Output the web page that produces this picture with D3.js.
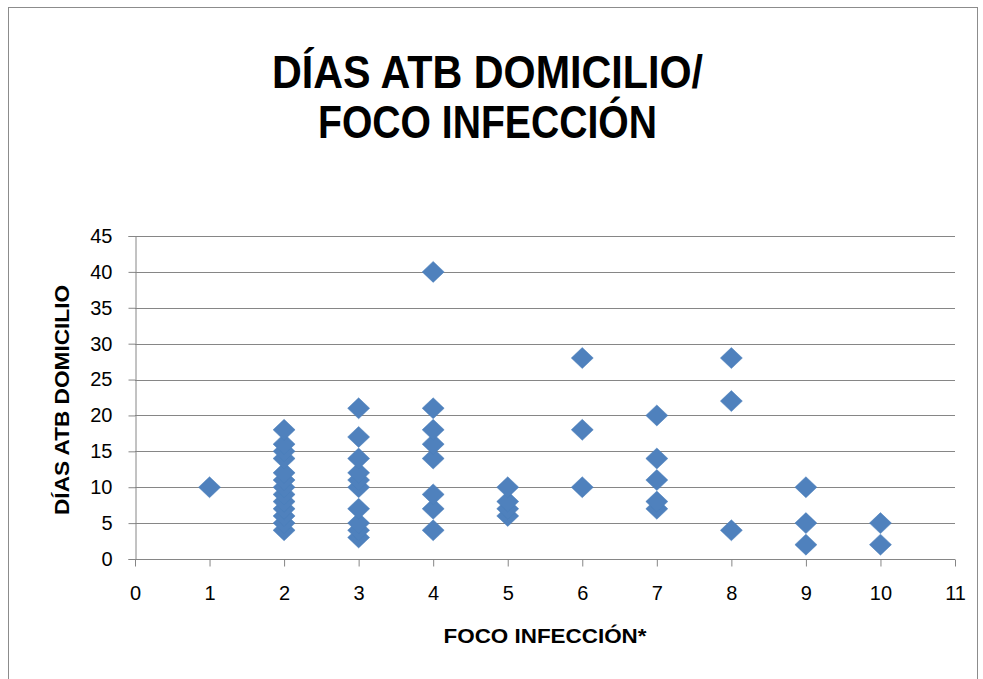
<!DOCTYPE html>
<html>
<head>
<meta charset="utf-8">
<script src="https://cdnjs.cloudflare.com/ajax/libs/d3/7.8.5/d3.min.js"></script>
<style>
  html, body { margin: 0; padding: 0; background: #fff; }
  svg { display: block; }
</style>
</head>
<body>
<svg id="chart" width="983" height="679"></svg>
<script>
// ---- Data ----
const titleLines = ["DÍAS ATB DOMICILIO/", "FOCO INFECCIÓN"];
const xAxisTitle = "FOCO INFECCIÓN*";
const yAxisTitle = "DÍAS ATB DOMICILIO";
const xTicks = [0, 1, 2, 3, 4, 5, 6, 7, 8, 9, 10, 11];
const yTicks = [0, 5, 10, 15, 20, 25, 30, 35, 40, 45];
const focoInfeccion = [
  1,
  2, 2, 2, 2, 2, 2, 2, 2, 2, 2, 2, 2, 2,
  3, 3, 3, 3, 3, 3, 3, 3, 3, 3,
  4, 4, 4, 4, 4, 4, 4, 4,
  5, 5, 5, 5,
  6, 6, 6,
  7, 7, 7, 7, 7,
  8, 8, 8,
  9, 9, 9,
  10, 10
];
const diasAtb = [
  10,
  4, 5, 6, 7, 8, 9, 10, 11, 12, 14, 15, 16, 18,
  3, 4, 5, 7, 10, 11, 12, 14, 17, 21,
  4, 7, 9, 14, 16, 18, 21, 40,
  6, 7, 8, 10,
  10, 18, 28,
  7, 8, 11, 14, 20,
  4, 22, 28,
  2, 5, 10,
  2, 5
];

// ---- Layout ----
const svg = d3.select("#chart");
const plot = { left: 135, right: 955, top: 236, bottom: 559 };
const gridColor = "#868686";
const markerColor = "#4F81BD";
const font = "'Liberation Sans', Arial, sans-serif";

// chart frame
svg.append("rect")
  .attr("x", 8.5).attr("y", 7.5)
  .attr("width", 969).attr("height", 700)
  .attr("fill", "#fff")
  .attr("stroke", "#8c8c8c")
  .attr("stroke-width", 1);

const x = d3.scaleLinear().domain([0, 11]).range([plot.left, plot.right]);
const y = d3.scaleLinear().domain([0, 45]).range([plot.bottom, plot.top]);

// gridlines
svg.append("g")
  .selectAll("line")
  .data(yTicks.filter(d => d > 0))
  .join("line")
  .attr("x1", plot.left).attr("x2", plot.right)
  .attr("y1", d => Math.round(y(d)) + 0.5)
  .attr("y2", d => Math.round(y(d)) + 0.5)
  .attr("stroke", gridColor)
  .attr("stroke-width", 1);

// y axis
const yAxis = svg.append("g")
  .attr("transform", `translate(${plot.left + 0.5},0)`)
  .call(d3.axisLeft(y).tickValues(yTicks).tickSize(7).tickPadding(16).tickFormat(d3.format("d")));
yAxis.selectAll("path, line").attr("stroke", gridColor);
yAxis.selectAll("text").attr("font-family", font).attr("font-size", 20).attr("fill", "#000");

// x axis
const xAxis = svg.append("g")
  .attr("transform", `translate(0,${plot.bottom + 0.5})`)
  .call(d3.axisBottom(x).tickValues(xTicks).tickSize(7).tickPadding(19).tickFormat(d3.format("d")));
xAxis.selectAll("path, line").attr("stroke", gridColor);
xAxis.select(".domain").attr("d", `M${plot.left},0H${plot.right}`);
xAxis.selectAll("text").attr("font-family", font).attr("font-size", 20).attr("fill", "#000");

// markers
const points = focoInfeccion.map((f, i) => ({ f, d: diasAtb[i] }));
const diamond = "M0,-10.5L11,0L0,10.5L-11,0Z";
svg.append("g")
  .selectAll("path")
  .data(points)
  .join("path")
  .attr("d", diamond)
  .attr("transform", p => `translate(${x(p.f)},${y(p.d)})`)
  .attr("fill", markerColor)
  .attr("stroke", "#4A7EBB")
  .attr("stroke-width", 0.5);

// title
svg.append("g")
  .selectAll("text")
  .data(titleLines)
  .join("text")
  .attr("x", 487.5)
  .attr("y", (d, i) => 88 + i * 50)
  .attr("text-anchor", "middle")
  .attr("font-family", font)
  .attr("font-weight", "bold")
  .attr("font-size", 47)
  .attr("textLength", (d, i) => i === 0 ? 431 : 339)
  .attr("lengthAdjust", "spacingAndGlyphs")
  .attr("fill", "#000")
  .text(d => d);

// axis titles
svg.append("text")
  .attr("x", 545).attr("y", 643)
  .attr("text-anchor", "middle")
  .attr("font-family", font)
  .attr("font-weight", "bold")
  .attr("font-size", 20)
  .attr("textLength", 203)
  .attr("lengthAdjust", "spacingAndGlyphs")
  .text(xAxisTitle);

svg.append("text")
  .attr("transform", "translate(69,400) rotate(-90)")
  .attr("text-anchor", "middle")
  .attr("font-family", font)
  .attr("font-weight", "bold")
  .attr("font-size", 20)
  .attr("textLength", 230)
  .attr("lengthAdjust", "spacingAndGlyphs")
  .text(yAxisTitle);
</script>
</body>
</html>
